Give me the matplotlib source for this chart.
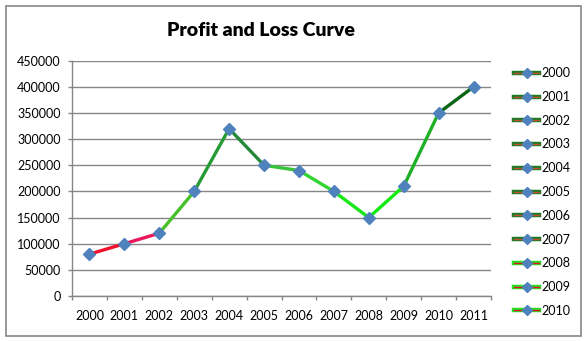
import matplotlib
matplotlib.use("Agg")
import matplotlib.pyplot as plt
import matplotlib.patheffects as pe
from matplotlib.lines import Line2D
from matplotlib.patches import Rectangle
import numpy as np

# ---- data ----
years = ['2000', '2001', '2002', '2003', '2004', '2005', '2006', '2007', '2008', '2009', '2010', '2011']
values = [80000, 100000, 120000, 200000, 320000, 250000, 240000, 200000, 150000, 210000, 350000, 400000]
series_labels = ['2000', '2001', '2002', '2003', '2004', '2005', '2006', '2007', '2008', '2009', '2010']
segment_colors = ['#f2102c', '#e8185a', '#48c02a', '#279a36', '#23883a', '#38c43a',
                  '#30d630', '#18e618', '#10ea10', '#1fb028', '#0b6616']
title = 'Profit and Loss Curve'
yticks = [0, 50000, 100000, 150000, 200000, 250000, 300000, 350000, 400000, 450000]

plt.rcParams['font.family'] = ['Lato', 'DejaVu Sans']

W, H = 587, 341
fig = plt.figure(figsize=(W / 100, H / 100), dpi=100)
grey = '#868686'
marker_color = '#4f81bd'

# outer chart border
fig.patches.append(Rectangle((6 / W, 5 / H), (581 - 6) / W, (335 - 5) / H,
                             transform=fig.transFigure, fill=False, edgecolor=grey, lw=1.2))

left, right, top, bottom = 72, 491, 60.7, 296
ax = fig.add_axes([left / W, 1 - bottom / H, (right - left) / W, (bottom - top) / H])

x = np.arange(len(years))
for i, lab in enumerate(series_labels):
    ax.plot(x[i:i + 2], values[i:i + 2], color=segment_colors[i], lw=2.4,
            solid_capstyle='round', zorder=3)
ax.plot(x, values, linestyle='none', marker='D', markersize=6.5,
        markerfacecolor=marker_color, markeredgecolor=marker_color, zorder=4)

ax.set_xlim(-0.5, len(years) - 0.5)
ax.set_ylim(0, 450000)
ax.set_yticks(yticks)
ax.set_yticklabels([str(v) for v in yticks])
ax.set_xticks(x)
ax.set_xticklabels(years)
ax.set_xticks(np.arange(len(years) + 1) - 0.5, minor=True)
ax.tick_params(axis='x', which='major', length=0, pad=10, labelsize=9)
ax.tick_params(axis='x', which='minor', length=3, color=grey, width=1)
ax.tick_params(axis='y', length=3, color=grey, width=1, labelsize=9, pad=5)
ax.grid(axis='y', color=grey, lw=1)
ax.set_axisbelow(True)
for s in ['top', 'right']:
    ax.spines[s].set_visible(False)
for s in ['left', 'bottom']:
    ax.spines[s].set_color(grey)
    ax.spines[s].set_linewidth(1)

fig.text(261 / W, 1 - 30 / H, title, ha='center', va='center', fontsize=14,
         fontweight='heavy', color='black')

# legend
handles = []
for i, lab in enumerate(series_labels):
    if i < 8:
        outer, inner = '#1b7a2a', '#c0502a'
    else:
        outer, inner = '#22e022', '#e8102a'
    ln = Line2D([], [], color=inner, lw=1.0,
                path_effects=[pe.Stroke(linewidth=3.2, foreground=outer), pe.Normal()])
    mk = Line2D([], [], linestyle='none', marker='D', markersize=5.5,
                markerfacecolor=marker_color, markeredgecolor=marker_color)
    handles.append((ln, mk))
leg = fig.legend(handles, series_labels, loc='upper left',
                 bbox_to_anchor=(508 / W, 1 - 61 / H), frameon=False,
                 fontsize=9, handlelength=2.0, handletextpad=0.15,
                 labelspacing=0.94, borderpad=0)

fig.savefig('out.png', dpi=100)
